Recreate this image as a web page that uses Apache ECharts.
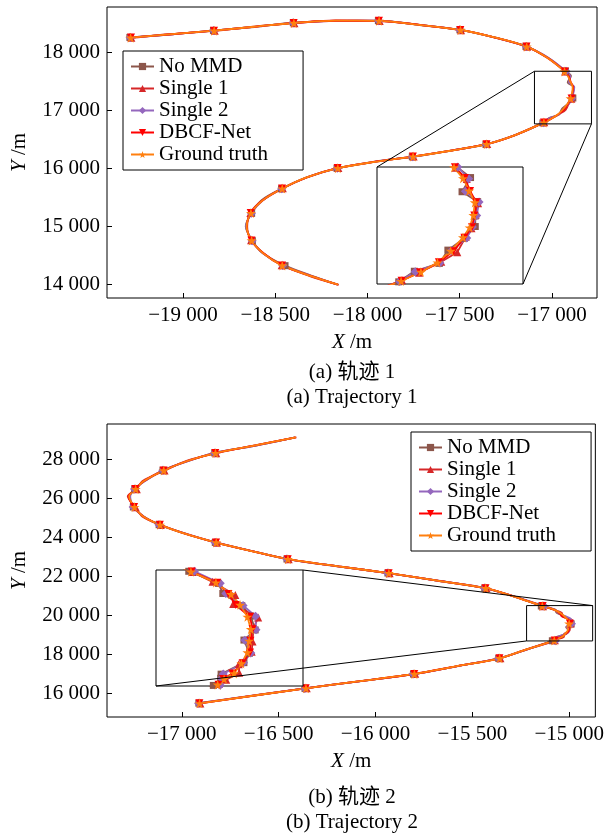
<!DOCTYPE html>
<html>
<head>
<meta charset="utf-8">
<script src="https://cdn.jsdelivr.net/npm/echarts@6/dist/echarts.min.js"></script>
<style>
  html, body { margin: 0; padding: 0; background: #fff; }
  #main { width: 607px; height: 836px; }
</style>
</head>
<body>
<div id="main"></div>
<script>
// trajectory data (m)
var names = ['No MMD', 'Single 1', 'Single 2', 'DBCF-Net', 'Ground truth'];

// ---- trajectory 1 ----
var noMmd1X = [-19288,-19056,-18835,-18611,-18402,-18166,-17941,-17706,-17499,-17306,-17141,-17019,-16927,-16897,-16915,-16882,-16887,-16887,-16910,-16945,-16963,-17016,-17049,-17196,-17358,-17546,-17757,-17956,-18165,-18326,-18466,-18574,-18628,-18660,-18624,-18569,-18447,-18306,-18163];
var noMmd1Y = [18256,18308,18376,18436,18509,18541,18546,18466,18388,18251,18101,17899,17675,17590,17480,17403,17292,17210,17119,17027,16924,16863,16781,16576,16410,16304,16196,16114,15996,15846,15644,15446,15220,14999,14748,14536,14317,14146,13992];
var single1a1X = [-19280,-19063,-18828,-18618,-18396,-18173,-17934,-17713,-17493,-17313,-17134,-17028,-16929,-16905,-16906,-16881,-16886,-16895,-16907,-16925,-16959,-17006,-17042,-17203,-17351,-17553,-17750,-17963,-18158,-18333,-18459,-18573,-18635,-18652,-18631,-18562,-18465,-18313,-18156];
var single1a1Y = [18249,18315,18369,18443,18502,18548,18539,18473,18381,18258,18094,17908,17666,17578,17494,17391,17304,17196,17131,17011,16936,16851,16793,16567,16417,16297,16203,16107,16003,15837,15651,15437,15227,14990,14755,14527,14324,14137,13985];
var single2a1X = [-19287,-19057,-18834,-18612,-18403,-18167,-17940,-17707,-17500,-17307,-17140,-17018,-16924,-16901,-16908,-16879,-16884,-16893,-16905,-16937,-16962,-17014,-17047,-17197,-17357,-17547,-17756,-17957,-18164,-18327,-18465,-18567,-18629,-18658,-18625,-18568,-18459,-18307,-18162];
var single2a1Y = [18255,18309,18375,18437,18508,18542,18545,18467,18387,18252,18100,17902,17672,17581,17484,17400,17295,17206,17121,17024,16927,16860,16784,16573,16411,16303,16197,16113,15997,15843,15645,15443,15221,14996,14749,14533,14318,14143,13991];
var dbcf1X = [-19282,-19059,-18832,-18614,-18400,-18169,-17938,-17709,-17497,-17309,-17138,-17024,-16930,-16909,-16898,-16885,-16889,-16894,-16910,-16933,-16964,-17004,-17043,-17199,-17355,-17549,-17754,-17959,-18162,-18329,-18463,-18569,-18633,-18654,-18629,-18564,-18463,-18309,-18160];
var dbcf1Y = [18253,18311,18373,18439,18506,18544,18543,18469,18385,18254,18098,17904,17670,17586,17486,17399,17296,17204,17123,17019,16932,16855,16789,16571,16413,16301,16199,16111,16001,15839,15649,15441,15225,14992,14753,14531,14322,14141,13989];
var truth1X = [-19284,-19060,-18831,-18615,-18399,-18170,-17937,-17710,-17496,-17310,-17137,-17025,-16932,-16913,-16900,-16888,-16891,-16899,-16913,-16939,-16967,-17002,-17044,-17200,-17354,-17550,-17753,-17960,-18161,-18330,-18462,-18570,-18632,-18655,-18628,-18565,-18462,-18310,-18159];
var truth1Y = [18252,18312,18372,18440,18505,18545,18542,18470,18384,18255,18097,17905,17669,17584,17488,17397,17298,17202,17125,17021,16930,16857,16787,16570,16414,16300,16200,16110,16000,15840,15648,15440,15224,14993,14752,14530,14321,14140,13988];
var marks1 = [0,2,4,6,8,10,12,17,22,24,26,28,30,32,34,36];

// ---- trajectory 2 ----
var noMmd2X = [-16415,-16616,-16830,-16964,-17097,-17195,-17243,-17268,-17250,-17195,-17117,-16976,-16827,-16636,-16457,-16186,-15936,-15676,-15436,-15276,-15144,-15075,-15065,-15021,-15000,-14990,-15016,-15003,-15016,-15069,-15070,-15087,-15216,-15364,-15576,-15804,-16076,-16364,-16912];
var noMmd2Y = [29136,28714,28334,27927,27440,26864,26485,26094,25560,25064,24651,24174,23742,23294,22889,22504,22170,21774,21399,20944,20479,20290,20132,19942,19779,19562,19404,19199,19051,18871,18807,18695,18256,17791,17396,16985,16626,16250,15492];
var single1b2X = [-16408,-16624,-16822,-16972,-17089,-17204,-17232,-17279,-17238,-17204,-17108,-16984,-16818,-16644,-16448,-16194,-15927,-15684,-15427,-15284,-15135,-15089,-15036,-15041,-14983,-14994,-14996,-14998,-15028,-15027,-15057,-15074,-15224,-15355,-15584,-15795,-16084,-16355,-16904];
var single1b2Y = [29126,28726,28322,27939,27428,26876,26473,26106,25548,25076,24639,24186,23730,23306,22877,22516,22158,21786,21387,20956,20467,20314,20108,19966,19755,19586,19380,19223,19027,18895,18783,18719,18244,17803,17384,16997,16614,16262,15480];
var single2b2X = [-16416,-16615,-16831,-16963,-17098,-17194,-17244,-17266,-17251,-17194,-17118,-16975,-16828,-16635,-16458,-16185,-15937,-15675,-15437,-15275,-15131,-15071,-15058,-15018,-14989,-14988,-15014,-15000,-15017,-15064,-15068,-15071,-15215,-15365,-15575,-15805,-16075,-16365,-16913];
var single2b2Y = [29135,28715,28333,27928,27439,26865,26484,26095,25559,25065,24650,24175,23741,23295,22888,22505,22169,21775,21398,20945,20478,20292,20130,19944,19777,19564,19402,19201,19049,18873,18805,18697,18255,17792,17395,16986,16625,16251,15491];
var dbcf2X = [-16412,-16619,-16827,-16967,-17094,-17198,-17240,-17274,-17246,-17198,-17113,-16979,-16823,-16639,-16453,-16189,-15932,-15679,-15432,-15279,-15137,-15078,-15052,-15035,-15002,-14996,-15001,-15002,-15019,-15043,-15064,-15075,-15219,-15360,-15579,-15800,-16079,-16360,-16909];
var dbcf2Y = [29131,28719,28329,27932,27435,26869,26480,26099,25555,25069,24646,24179,23737,23299,22884,22509,22165,21779,21394,20949,20474,20301,20122,19952,19769,19572,19394,19209,19041,18881,18797,18705,18251,17796,17391,16990,16621,16255,15487];
var truth2X = [-16411,-16620,-16826,-16968,-17093,-17199,-17238,-17272,-17244,-17199,-17112,-16980,-16822,-16640,-16452,-16190,-15931,-15680,-15431,-15280,-15139,-15081,-15046,-15025,-15008,-15000,-15004,-15008,-15022,-15039,-15062,-15077,-15220,-15359,-15580,-15799,-16080,-16359,-16908];
var truth2Y = [29130,28720,28328,27933,27434,26870,26479,26100,25554,25070,24645,24180,23736,23300,22883,22510,22164,21780,21393,20950,20473,20302,20120,19954,19767,19574,19392,19211,19039,18883,18795,18707,18250,17797,17390,16991,16620,16256,15486];
var marks2 = [2,4,6,8,10,12,14,16,18,20,25,31,33,35,37,38];

// axis ticks
var xTicks1 = [-19000, -18500, -18000, -17500, -17000];
var yTicks1 = [14000, 15000, 16000, 17000, 18000];
var xTicks2 = [-17000, -16500, -16000, -15500, -15000];
var yTicks2 = [16000, 18000, 20000, 22000, 24000, 26000, 28000];

// zoomed windows (also the inset axis ranges)
var box1X = [-17095, -16786];
var box1Y = [16764, 17672];
var box2X = [-15220, -14879];
var box2Y = [18686, 20499];

var FONT = 'Liberation Serif';
var colors = ['#8c564b', '#d62728', '#9467bd', '#ff0000', '#ff7f0e'];
var STAR = 'path://M50,0 L61,35 L98,35 L68,57 L79,91 L50,70 L21,91 L32,57 L2,35 L39,35 Z';
var symbols = ['rect', 'triangle', 'diamond', 'path://M0,0 L10,0 L5,9 Z', STAR];
var sizes = [7, 8, 9, 8, 10];

var myChart = echarts.init(document.getElementById('main'));

function fmt(v) {
    var s = String(Math.abs(v)).replace(/\B(?=(\d{3})+(?!\d))/g, ' ');
    return (v < 0 ? '\u2212' : '') + s;
}

function pairs(xs, ys) {
    return xs.map(function (x, i) { return [x, ys[i]]; });
}

function mainXAxis(g, min, max, ticks) {
    return {
        type: 'value', gridIndex: g, min: min, max: max,
        splitLine: { show: false },
        axisLine: { show: false },
        axisTick: { show: true, inside: true, length: 5, customValues: ticks, lineStyle: { color: '#000' } },
        axisLabel: { customValues: ticks, formatter: fmt, margin: 7, color: '#000', fontFamily: FONT, fontSize: 21 },
        name: '{i|X} /m', nameLocation: 'middle', nameGap: 34,
        nameTextStyle: { color: '#000', fontFamily: FONT, fontSize: 21,
            rich: { i: { fontStyle: 'italic', fontFamily: FONT, fontSize: 21, color: '#000' } } }
    };
}

function mainYAxis(g, min, max, ticks) {
    return {
        type: 'value', gridIndex: g, min: min, max: max,
        splitLine: { show: false },
        axisLine: { show: false },
        axisTick: { show: true, inside: true, length: 5, customValues: ticks, lineStyle: { color: '#000' } },
        axisLabel: { customValues: ticks, formatter: fmt, margin: 7, color: '#000', fontFamily: FONT, fontSize: 21 },
        name: '{i|Y} /m', nameLocation: 'middle', nameGap: 77, nameRotate: 90,
        nameTextStyle: { color: '#000', fontFamily: FONT, fontSize: 21,
            rich: { i: { fontStyle: 'italic', fontFamily: FONT, fontSize: 21, color: '#000' } } }
    };
}

function trajSeries(g, xsList, ysList, marks, inset) {
    return names.map(function (n, k) {
        return {
            type: 'line', name: n, xAxisIndex: g, yAxisIndex: g,
            data: pairs(xsList[k], ysList[k]),
            symbol: symbols[k],
            symbolSize: inset ? sizes[k] : function (v, p) {
                return marks.indexOf(p.dataIndex) >= 0 ? sizes[k] : 0;
            },
            smooth: inset ? false : 0.3,
            clip: true,
            lineStyle: { color: colors[k], width: 1.8 },
            itemStyle: { color: colors[k] },
            z: inset ? 6 : 2,
            silent: true,
            emphasis: { disabled: true }
        };
    });
}

function boxSeries(g, bx, by) {
    return {
        type: 'line', name: 'box' + g, xAxisIndex: g, yAxisIndex: g,
        data: [[bx[0], by[0]], [bx[1], by[0]], [bx[1], by[1]], [bx[0], by[1]], [bx[0], by[0]]],
        symbol: 'none', silent: true, z: 3,
        lineStyle: { color: '#000', width: 1 }
    };
}

function legendAt(left, top) {
    return {
        orient: 'vertical', left: left, top: top,
        itemWidth: 23, itemHeight: 9, itemGap: 1,
        padding: [5, 35, 5, 7],
        borderColor: '#000', borderWidth: 1, borderRadius: 0,
        backgroundColor: '#fff',
        selectedMode: false,
        textStyle: { color: '#000', fontFamily: FONT, fontSize: 21 },
        data: names
    };
}

var capStyle = { fill: '#000', font: '21px "Liberation Serif", "Noto Sans CJK SC"', align: 'center', verticalAlign: 'middle' };
var captions = [
    { type: 'text', style: Object.assign({ text: '(a) 轨迹 1', x: 352, y: 372 }, capStyle) },
    { type: 'text', style: Object.assign({ text: '(a) Trajectory 1', x: 352, y: 397 }, capStyle) },
    { type: 'text', style: Object.assign({ text: '(b) 轨迹 2', x: 352, y: 797 }, capStyle) },
    { type: 'text', style: Object.assign({ text: '(b) Trajectory 2', x: 352, y: 822 }, capStyle) }
];

var option = {
    animation: false,
    backgroundColor: '#fff',
    grid: [
        { left: 107, top: 7, width: 490, height: 291, show: true, borderColor: '#000', borderWidth: 1 },
        { left: 377, top: 167, width: 146, height: 117, show: true, borderColor: '#000', borderWidth: 1, backgroundColor: '#fff', z: 5 },
        { left: 107, top: 424, width: 490, height: 293, show: true, borderColor: '#000', borderWidth: 1 },
        { left: 156, top: 570, width: 147, height: 116, show: true, borderColor: '#000', borderWidth: 1, backgroundColor: '#fff', z: 5 }
    ],
    xAxis: [
        mainXAxis(0, -19412, -16756, xTicks1),
        { type: 'value', gridIndex: 1, min: box1X[0], max: box1X[1], show: false },
        mainXAxis(2, -17386, -14865, xTicks2),
        { type: 'value', gridIndex: 3, min: box2X[0], max: box2X[1], show: false }
    ],
    yAxis: [
        mainYAxis(0, 13759, 18781, yTicks1),
        { type: 'value', gridIndex: 1, min: box1Y[0], max: box1Y[1], show: false },
        mainYAxis(2, 14783, 29818, yTicks2),
        { type: 'value', gridIndex: 3, min: box2Y[0], max: box2Y[1], show: false }
    ],
    legend: [legendAt(123, 51), legendAt(411, 432)],
    graphic: captions,
    series: [].concat(
        trajSeries(0, [noMmd1X, single1a1X, single2a1X, dbcf1X, truth1X], [noMmd1Y, single1a1Y, single2a1Y, dbcf1Y, truth1Y], marks1, false),
        trajSeries(1, [noMmd1X, single1a1X, single2a1X, dbcf1X, truth1X], [noMmd1Y, single1a1Y, single2a1Y, dbcf1Y, truth1Y], marks1, true),
        trajSeries(2, [noMmd2X, single1b2X, single2b2X, dbcf2X, truth2X], [noMmd2Y, single1b2Y, single2b2Y, dbcf2Y, truth2Y], marks2, false),
        trajSeries(3, [noMmd2X, single1b2X, single2b2X, dbcf2X, truth2X], [noMmd2Y, single1b2Y, single2b2Y, dbcf2Y, truth2Y], marks2, true),
        [boxSeries(0, box1X, box1Y), boxSeries(2, box2X, box2Y)]
    )
};

myChart.setOption(option);

// lines joining each zoom box to its inset
function px(g, x, y) { return myChart.convertToPixel({ gridIndex: g }, [x, y]); }
function link(a, b) {
    return { type: 'line', z: 10, silent: true,
        shape: { x1: a[0], y1: a[1], x2: b[0], y2: b[1] },
        style: { stroke: '#000', lineWidth: 1 } };
}
var links = [
    link(px(0, box1X[0], box1Y[1]), px(1, box1X[0], box1Y[1])),
    link(px(0, box1X[1], box1Y[0]), px(1, box1X[1], box1Y[0])),
    link(px(2, box2X[1], box2Y[1]), px(3, box2X[1], box2Y[1])),
    link(px(2, box2X[0], box2Y[0]), px(3, box2X[0], box2Y[0]))
];
myChart.setOption({ graphic: captions.concat(links) });
</script>
</body>
</html>
